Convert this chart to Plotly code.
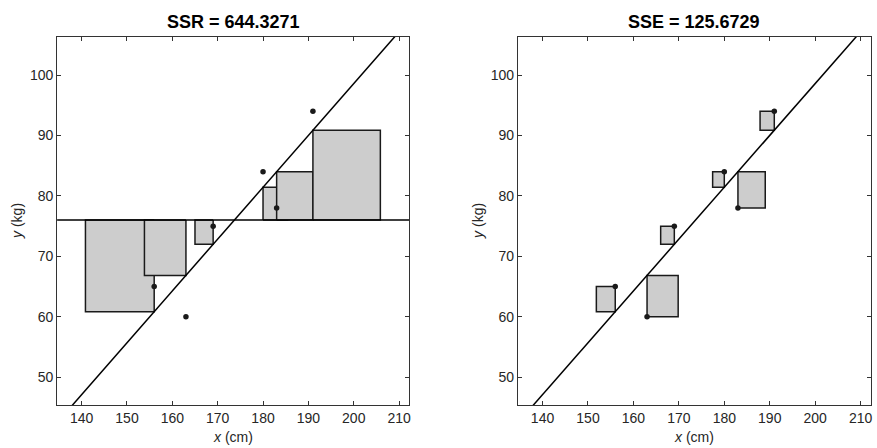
import numpy as np
import plotly.graph_objects as go

# Data
height_cm = [156, 163, 169, 180, 183, 191]
weight_kg = [65, 60, 75, 84, 78, 94]
x_ticks = [140, 150, 160, 170, 180, 190, 200, 210]
y_ticks = [50, 60, 70, 80, 90, 100]
x_range = [134.6, 212.2]
y_range = [45.4, 106.3]

x = np.array(height_cm, dtype=float)
y = np.array(weight_kg, dtype=float)
xm, ym = x.mean(), y.mean()
slope = ((x - xm) * (y - ym)).sum() / ((x - xm) ** 2).sum()
intercept = ym - slope * xm
yhat = intercept + slope * x
SSR = ((yhat - ym) ** 2).sum()
SSE = ((y - yhat) ** 2).sum()

FILL = "#cdcdcd"
FONT = "Liberation Sans"

fig = go.Figure()


def box_trace(x0, x1, y0, y1, xa, ya):
    return go.Scatter(
        x=[x0, x1, x1, x0, x0], y=[y0, y0, y1, y1, y0],
        mode="lines", fill="toself", fillcolor=FILL,
        line=dict(color="#1a1a1a", width=1.5),
        xaxis=xa, yaxis=ya, showlegend=False, hoverinfo="skip")


# Left panel: SSR squares
for xi, yh in zip(x, yhat):
    d = yh - ym
    fig.add_trace(box_trace(xi, xi + d, ym, yh, "x", "y"))
# Right panel: SSE squares
for xi, yi, yh in zip(x, y, yhat):
    d = yh - yi
    fig.add_trace(box_trace(xi, xi + d, yi, yh, "x2", "y2"))

xl = np.array([125.0, 220.0])
for xa, ya in [("x", "y"), ("x2", "y2")]:
    fig.add_trace(go.Scatter(x=xl, y=intercept + slope * xl, mode="lines",
                             line=dict(color="black", width=1.5),
                             xaxis=xa, yaxis=ya, showlegend=False))
fig.add_trace(go.Scatter(x=xl, y=[ym, ym], mode="lines",
                         line=dict(color="black", width=1.5),
                         xaxis="x", yaxis="y", showlegend=False))
for xa, ya in [("x", "y"), ("x2", "y2")]:
    fig.add_trace(go.Scatter(x=x, y=y, mode="markers",
                             marker=dict(color="#1a1a1a", size=5.5),
                             xaxis=xa, yaxis=ya, showlegend=False))

ax_common = dict(
    showgrid=False, zeroline=False, showline=True, linecolor="#333333",
    linewidth=1.2, mirror="ticks", ticks="inside", ticklen=4,
    tickcolor="#333333", tickwidth=1,
    tickfont=dict(family=FONT, size=14, color="#262626"),
)
fig.update_layout(
    width=877, height=448,
    margin=dict(l=0, r=0, t=0, b=0),
    plot_bgcolor="white", paper_bgcolor="white",
    xaxis=dict(domain=[0.0653, 0.4675], range=x_range, tickvals=x_ticks,
               anchor="y", **ax_common),
    yaxis=dict(domain=[0.096, 0.9174], range=y_range, tickvals=y_ticks,
               anchor="x", **ax_common),
    xaxis2=dict(domain=[0.592, 0.995], range=x_range, tickvals=x_ticks,
                anchor="y2", **ax_common),
    yaxis2=dict(domain=[0.096, 0.9174], range=y_range, tickvals=y_ticks,
                anchor="x2", **ax_common),
)

ann = []
for cx, txt in [((0.0653 + 0.4675) / 2, f"SSR = {SSR:.4f}"),
                ((0.592 + 0.995) / 2, f"SSE = {SSE:.4f}")]:
    ann.append(dict(x=cx, y=1 - 22 / 448, xref="paper", yref="paper",
                    text=f"<b>{txt}</b>", showarrow=False,
                    font=dict(family=FONT, size=18, color="black"),
                    xanchor="center", yanchor="middle"))
    ann.append(dict(x=cx, y=1 - 437 / 448, xref="paper", yref="paper",
                    text="<i>x</i> (cm)", showarrow=False,
                    font=dict(family=FONT, size=14, color="#262626"),
                    xanchor="center", yanchor="middle"))
for px in [17, 479]:
    ann.append(dict(x=px / 877, y=(0.096 + 0.9174) / 2, xref="paper",
                    yref="paper", text="<i>y</i> (kg)", showarrow=False,
                    textangle=-90,
                    font=dict(family=FONT, size=14, color="#262626"),
                    xanchor="center", yanchor="middle"))
fig.update_layout(annotations=ann)

fig.write_html(
    "out.html",
    config={"displayModeBar": False},
    post_script="document.body.style.margin='0';document.body.style.overflow='hidden';",
)
